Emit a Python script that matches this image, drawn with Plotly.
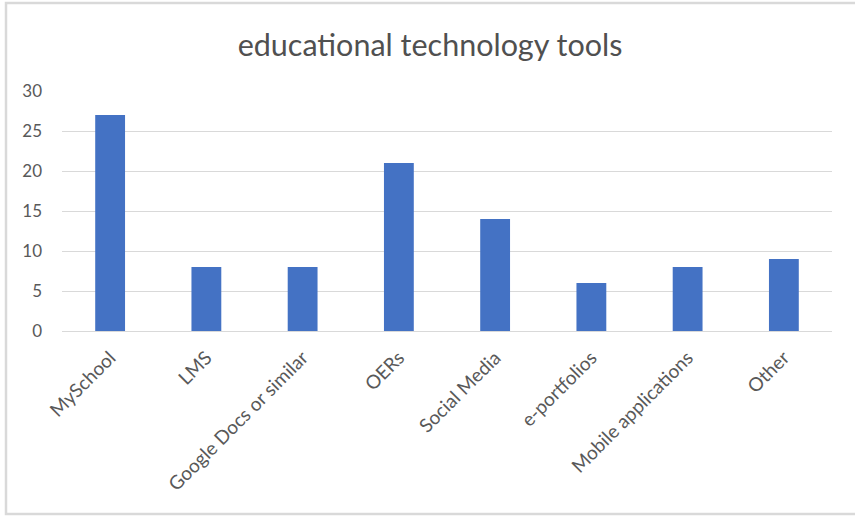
import plotly.graph_objects as go

categories = ["MySchool", "LMS", "Google Docs or similar", "OERs", "Social Media",
              "e-portfolios", "Mobile applications", "Other"]
values = [27, 8, 8, 21, 14, 6, 8, 9]
y_ticks = [0, 5, 10, 15, 20, 25, 30]

W, H = 855, 516
L, R, T, B = 62, 832, 91, 331

fig = go.Figure(go.Bar(
    x=categories, y=values,
    marker=dict(color="#4472C4", line=dict(width=0)),
    width=0.31,
))

def px_x(px):
    return (px - L) / (R - L)

def px_y(py):
    return (B - py) / (B - T)

fig.add_shape(type="rect", xref="paper", yref="paper",
              x0=px_x(6), x1=px_x(870), y0=px_y(514), y1=px_y(3),
              line=dict(color="#d9d9d9", width=2.5), fillcolor="rgba(0,0,0,0)",
              layer="below")

fig.update_layout(
    width=W, height=H,
    margin=dict(l=L, r=W - R, t=T, b=H - B, pad=0),
    paper_bgcolor="white", plot_bgcolor="white",
    font=dict(family="Lato, Open Sans, sans-serif", color="#595959", size=17),
    title=dict(text="educational technology tools", x=(430) / W, xanchor="center",
               y=1 - 45 / H, yanchor="middle",
               font=dict(size=30.5, color="#505050")),
    showlegend=False,
    xaxis=dict(tickangle=-45, showgrid=False, showline=False, ticks="",
               ticklabelstandoff=11,
               tickfont=dict(size=19, color="#595959"), fixedrange=True),
    yaxis=dict(range=[0, 30], tickvals=y_ticks, showgrid=True, gridcolor="#d9d9d9",
               gridwidth=1, zeroline=True, zerolinecolor="#d9d9d9", zerolinewidth=1,
               showline=False, ticks="", ticklabelstandoff=19,
               tickfont=dict(size=17, color="#595959"), fixedrange=True),
)

fig.write_html("out.html", config={"displayModeBar": False},
               post_script="document.body.style.margin='0';document.body.style.overflow='hidden';")
